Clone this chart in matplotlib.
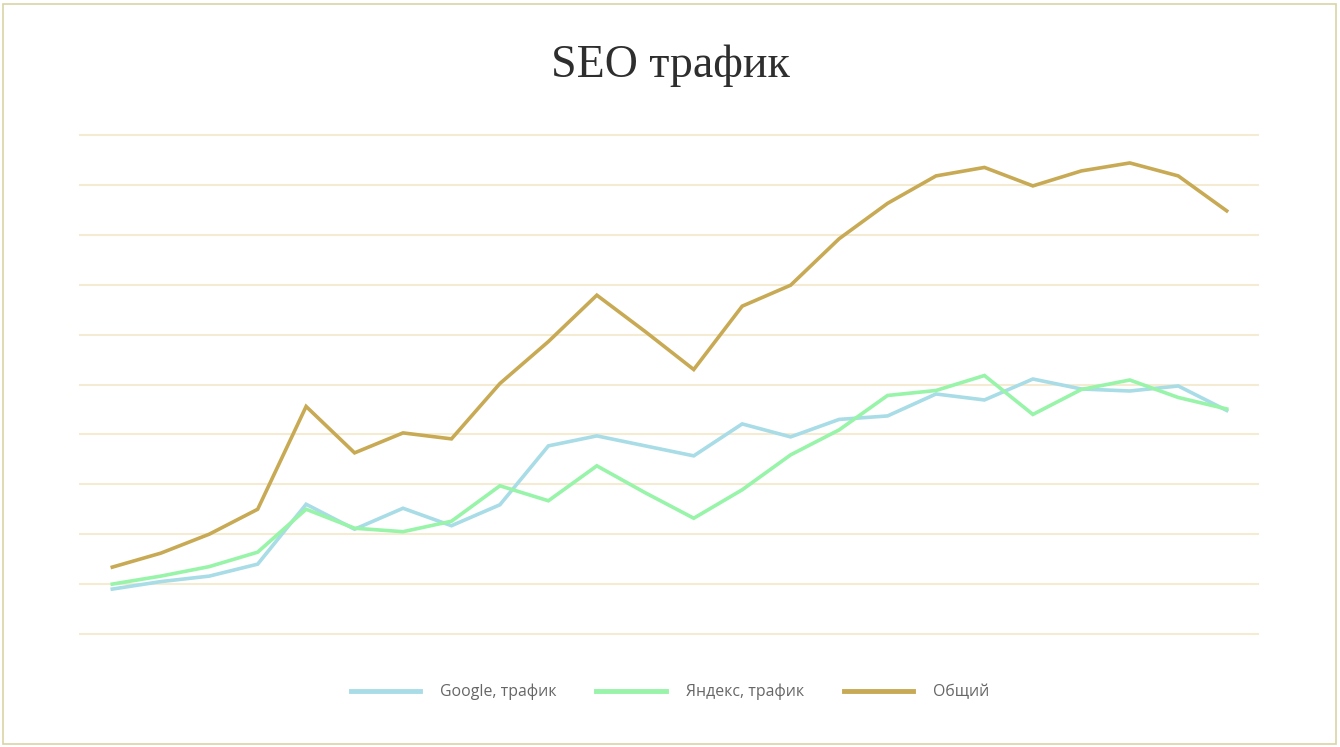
import numpy as np
import matplotlib
matplotlib.use("Agg")
import matplotlib.pyplot as plt
from matplotlib.patches import Rectangle

# weekly points, no labels shown on the axis
points = list(range(24))

google = [90, 105, 116, 140, 260, 210, 252, 217, 259, 377, 397, 377,
          357, 421, 395, 430, 437, 481, 469, 511, 491, 487, 497, 448]
yandex = [100, 116, 135, 164, 250, 212, 205, 226, 297, 267, 337, 283,
          232, 289, 359, 409, 478, 488, 518, 440, 490, 509, 474, 451]
total = [134, 162, 200, 250, 456, 363, 403, 391, 502, 586, 679, 606,
         530, 657, 699, 792, 863, 918, 935, 898, 928, 944, 918, 848]

series_names = ["Google, трафик", "Яндекс, трафик", "Общий"]
colors = ["#a8dce6", "#97f4a8", "#c8aa55"]

fig = plt.figure(figsize=(13.4, 7.47), dpi=100)
ax = fig.add_axes([80 / 1340, 1 - 634 / 747, 1178 / 1340, 499 / 747])

for vals, name, c in zip([google, yandex, total], series_names, colors):
    ax.plot(points, vals, color=c, lw=2.6, label=name, solid_joinstyle="miter")

ax.set_xlim(-0.667, 23.646)
ax.set_ylim(0, 1000)
ax.set_yticks(np.arange(0, 1001, 100))
ax.set_xticks([])
ax.yaxis.grid(True, color="#f5ebd3", lw=1.5)
for gl in ax.get_ygridlines():
    gl.set_clip_on(False)
ax.set_axisbelow(True)
ax.tick_params(left=False, labelleft=False)
for s in ax.spines.values():
    s.set_visible(False)

fig.text(0.5, 1 - 66 / 747, "SEO трафик", ha="center", va="center",
         fontsize=33, family="Liberation Serif", color="#2e2e2e")

leg = fig.legend(loc="center", bbox_to_anchor=(0.5, 1 - 692 / 747), ncol=3,
                 frameon=False, handlelength=4.4,
                 handletextpad=1.25, columnspacing=2.5,
                 prop={"family": "Open Sans", "size": 11.4})
for line in leg.get_lines():
    line.set_linewidth(3.5)
for t in leg.get_texts():
    t.set_color("#666666")

fig.patches.append(Rectangle((3 / 1340, 3 / 747), 1333 / 1340, 740 / 747,
                             transform=fig.transFigure, fill=False,
                             edgecolor="#d9d4a6", lw=1.2))

fig.savefig("out.png", dpi=100, facecolor="white")
